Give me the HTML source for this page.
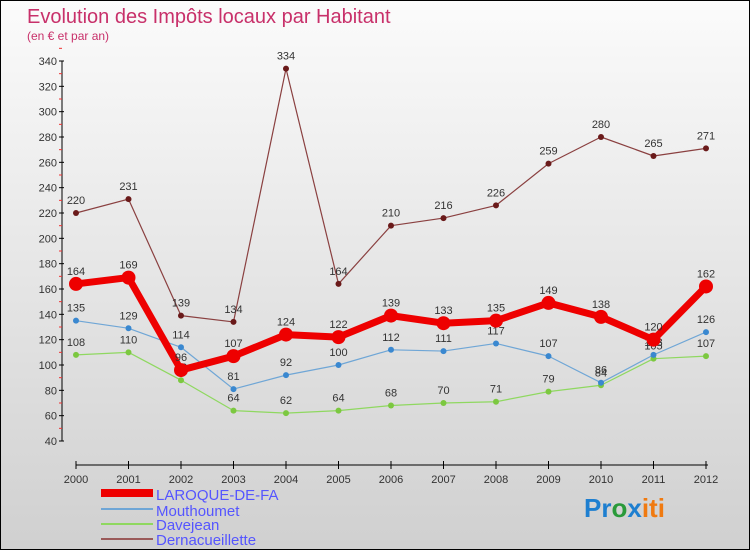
<!DOCTYPE html>
<html><head><meta charset="utf-8"><style>
body{margin:0;}
#c{width:748px;height:548px;border:1px solid #000;background:linear-gradient(#fbfbfb,#d0d0d0);position:relative;font-family:"Liberation Sans",sans-serif;}
svg text{font-family:"Liberation Sans",sans-serif;}
</style></head><body>
<div id="c">
<svg id="s" width="748" height="548">
<text x="26" y="22" font-size="20" fill="#c8306a">Evolution des Impôts locaux par Habitant</text>
<text x="26" y="39" font-size="12" fill="#c8306a">(en € et par an)</text>
<g id="axes"></g><g id="series"></g>
<g>
<rect x="100" y="488" width="52" height="8" fill="#e00"/>
<text x="155" y="499" font-size="15" fill="#55f">LAROQUE-DE-FA</text>
<line x1="100" y1="508" x2="152" y2="508" stroke="#6fa6d6" stroke-width="2"/>
<text x="155" y="515" font-size="15" fill="#55f">Mouthoumet</text>
<line x1="100" y1="523" x2="152" y2="523" stroke="#8fd860" stroke-width="2"/>
<text x="155" y="529" font-size="15" fill="#55f">Davejean</text>
<line x1="100" y1="538" x2="152" y2="538" stroke="#9a5a5a" stroke-width="2"/>
<text x="155" y="544" font-size="15" fill="#55f">Dernacueillette</text>
</g>
<text x="583" y="516" font-size="26" font-weight="bold"><tspan fill="#1e7fd0">Pr</tspan><tspan fill="#2a9a3a">o</tspan><tspan fill="#1e7fd0">x</tspan><tspan fill="#f07a10">iti</tspan></text>
</svg></div>
<script>
const years=[2000,2001,2002,2003,2004,2005,2006,2007,2008,2009,2010,2011,2012];
const yTicks=[40,60,80,100,120,140,160,180,200,220,240,260,280,300,320,340];
const laroque=[164,169,96,107,124,122,139,133,135,149,138,120,162];
const mouthoumet=[135,129,114,81,92,100,112,111,117,107,86,108,126];
const davejean=[108,110,88,64,62,64,68,70,71,79,84,105,107];
const dernac=[220,231,139,134,334,164,210,216,226,259,280,265,271];
const NS="http://www.w3.org/2000/svg";
const xS=i=>75+i*52.5, yS=v=>440-(v-40)*380/300;
function mk(t,a,p){const e=document.createElementNS(NS,t);for(const k in a)e.setAttribute(k,a[k]);p.appendChild(e);return e;}
const ax=document.getElementById('axes'),sg=document.getElementById('series');
let e=mk('line',{x1:61,y1:60,x2:61,y2:440,stroke:'#000'},ax);


e=mk('line',{x1:75,y1:464,x2:707,y2:464,stroke:'#000'},ax);


yTicks.forEach(v=>{mk('line',{x1:58,y1:yS(v),x2:63,y2:yS(v),stroke:'#000'},ax);
mk('line',{x1:58,y1:yS(v+10),x2:61,y2:yS(v+10),stroke:'#e33'},ax);
const t=mk('text',{x:56,y:yS(v)+4,'font-size':11,fill:'#333','text-anchor':'end'},ax);t.textContent=v;

});
years.forEach((y,i)=>{mk('line',{x1:xS(i),y1:460,x2:xS(i),y2:468,stroke:'#000'},ax);
const t=mk('text',{x:xS(i),y:482,'font-size':11,fill:'#333','text-anchor':'middle'},ax);t.textContent=y;

});
function series(d,col,dot,w,r,name){
const g=mk('g',{},sg);


mk('polyline',{points:d.map((v,i)=>xS(i)+','+yS(v)).join(' '),fill:'none',stroke:col,'stroke-width':w,'stroke-linejoin':'round'},g);
d.forEach((v,i)=>{const c=mk('circle',{cx:xS(i),cy:yS(v),r:r,fill:dot},g);


const t=mk('text',{x:xS(i),y:yS(v)-9,'font-size':11,fill:'#333','text-anchor':'middle'},g);t.textContent=v;

});}
series(davejean,'#8fd860','#7cc840',1.2,3,'davejean');
series(mouthoumet,'#6fa6d6','#3a88d0',1.2,3,'mouthoumet');
series(dernac,'#8a4040','#6a1a1a',1.2,3,'dernacueillette');
series(laroque,'#ee0000','#ee0000',7,7,'laroque');
</script>
</body></html>
